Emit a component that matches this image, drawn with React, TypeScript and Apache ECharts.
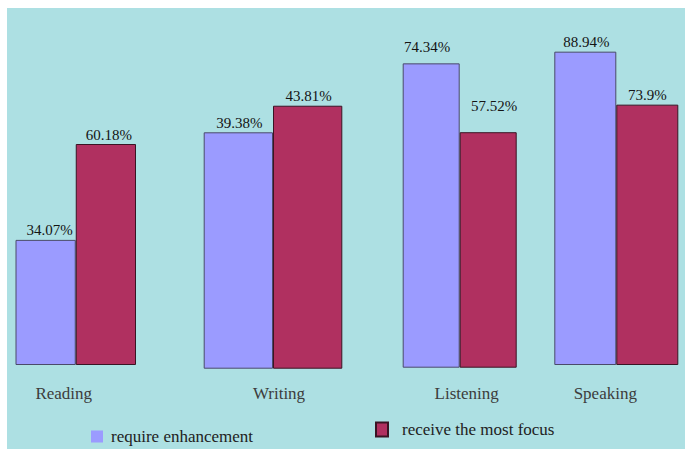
import React, { useEffect, useRef } from "react";
import * as echarts from "echarts";

// Skills surveyed and the two shares reported for each one (percent)
const skills = ["Reading", "Writing", "Listening", "Speaking"];
const requireEnhancement = [34.07, 39.38, 74.34, 88.94];
const receiveMostFocus = [60.18, 43.81, 57.52, 73.9];
const seriesNames = ["require enhancement", "receive the most focus"];

// Per-panel layout: each skill is its own small panel with its own vertical scale
const panelLeft = [15.5, 203.7, 402.7, 554.3];
const panelRight = [136, 342.3, 516.7, 678.3];
const panelBase = [365, 368.7, 367.7, 365];
const panelMax = [93.95, 58.09, 84.93, 97.93];
const panelTop = 20;
// horizontal nudge of the skill name under each panel
const nameShift = [-12, 6, 7, -11];
// value label nudges [dx, dy] for the two bars of each panel
const blueLabelShift = [[4, 0], [1, 0], [-4, -7], [1, 0]];
const redLabelShift = [[3, 0], [1, 0], [6, -17], [0, 0]];

const W = 685;
const H = 449;
const NAME_Y = 385; // common top line of the skill names
const FONT = "Liberation Serif, DejaVu Serif, Times New Roman, serif";
const BLUE = "#9b9bff";
const RED = "#b03060";

export default function App() {
  const ref = useRef<HTMLDivElement>(null);

  useEffect(() => {
    if (!ref.current) return;
    const chart = echarts.init(ref.current, null, { renderer: "svg" });

    const grids = skills.map((_, i) => ({
      left: panelLeft[i],
      right: W - panelRight[i],
      top: panelTop,
      bottom: H - panelBase[i],
    }));

    const xAxes = skills.map((name, i) => {
      const s = nameShift[i];
      return {
        type: "category",
        gridIndex: i,
        data: [name],
        axisLine: { show: false },
        axisTick: { show: false },
        axisLabel: {
          margin: NAME_Y - panelBase[i],
          fontSize: 17,
          fontFamily: FONT,
          color: "#3c3c3c",
          padding: s >= 0 ? [0, 0, 0, 2 * s] : [0, -2 * s, 0, 0],
        },
      };
    });

    const yAxes = skills.map((_, i) => ({
      type: "value",
      gridIndex: i,
      min: 0,
      max: panelMax[i],
      show: false,
      splitLine: { show: false },
    }));

    const labelBase = {
      show: true,
      position: "top",
      distance: 2,
      fontSize: 15,
      fontFamily: FONT,
      color: "#141414",
      formatter: "{c}%",
    };

    const series: any[] = [];
    skills.forEach((_, i) => {
      series.push({
        name: seriesNames[0],
        type: "bar",
        xAxisIndex: i,
        yAxisIndex: i,
        barGap: "0%",
        barCategoryGap: "0%",
        itemStyle: { color: BLUE, borderColor: "#4a4a6a", borderWidth: 1 },
        label: { ...labelBase, offset: blueLabelShift[i] },
        data: [requireEnhancement[i]],
      });
      series.push({
        name: seriesNames[1],
        type: "bar",
        xAxisIndex: i,
        yAxisIndex: i,
        barGap: "0%",
        barCategoryGap: "0%",
        itemStyle: { color: RED, borderColor: "#3a1424", borderWidth: 1 },
        label: { ...labelBase, offset: redLabelShift[i] },
        data: [receiveMostFocus[i]],
      });
    });

    const legendText = { fontSize: 17, fontFamily: FONT, color: "#222" };

    chart.setOption({
      animation: false,
      backgroundColor: "#ffffff",
      textStyle: { fontFamily: FONT },
      graphic: {
        elements: [
          {
            type: "rect",
            z: -10,
            silent: true,
            shape: { x: 7, y: 8, width: W - 7, height: H - 8 },
            style: { fill: "#ade0e3" },
          },
        ],
      },
      legend: [
        {
          data: [{ name: seriesNames[0], itemStyle: { borderWidth: 0 } }],
          left: 91,
          top: 428,
          padding: 0,
          icon: "rect",
          itemWidth: 12,
          itemHeight: 12,
          textStyle: { ...legendText, padding: [0, 0, 0, 3] },
        },
        {
          data: [{ name: seriesNames[1] }],
          left: 375,
          top: 421,
          padding: 0,
          icon: "rect",
          itemWidth: 12,
          itemHeight: 14,
          textStyle: { ...legendText, padding: [0, 0, 0, 9] },
        },
      ],
      grid: grids,
      xAxis: xAxes,
      yAxis: yAxes,
      series,
    });

    return () => chart.dispose();
  }, []);

  return (
    <div
      ref={ref}
      style={{ position: "absolute", left: 0, top: 0, width: W, height: H }}
    />
  );
}
